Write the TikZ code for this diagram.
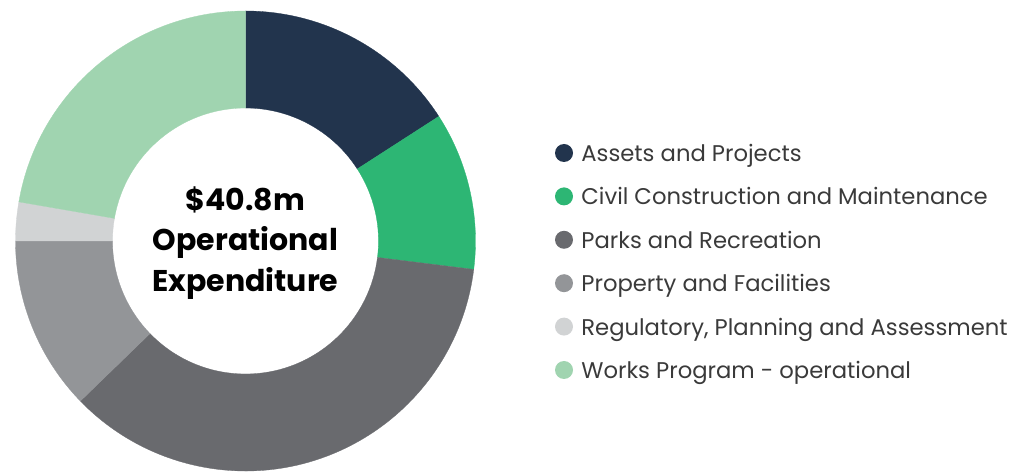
\documentclass[tikz,border=0pt]{standalone}
\usepackage{fontspec}
\setmainfont{Poppins}
\usepackage{tikz}
\usetikzlibrary{
  calc
 , positioning
}
\definecolor{assetsc}{HTML}{22344D}
\definecolor{civilc}{HTML}{2DB674}
\definecolor{parksc}{HTML}{696A6E}
\definecolor{propc}{HTML}{939598}
\definecolor{regc}{HTML}{D1D3D4}
\definecolor{worksc}{HTML}{A0D4B0}
\definecolor{legtext}{HTML}{3A3A3A}

\begin{document}
\begin{tikzpicture}[x=1pt,y=1pt,
    legdot/.style={circle,inner sep=0pt,minimum size=18pt},
    legtxt/.style={anchor=west,inner sep=0pt,text height=17pt,text depth=0pt,
      text=legtext,font=\fontsize{22.7}{26}\selectfont},
    centretxt/.style={align=center,font=\bfseries\fontsize{30}{40.5}\selectfont}]
      \useasboundingbox (0,0) rectangle (1011,471);
      \coordinate (O) at (245.5,230);

      % donut ring
      \def\ro{230}
      \def\ri{133}
      \begin{scope}[shift={(O)}]
        \foreach \a/\b/\c in {90/32.8/assetsc, 32.8/-7.1/civilc,
            -7.1/-135.9/parksc, 224.1/180/propc, 180/170.2/regc, 170.2/90/worksc}{
          \filldraw[fill=\c,draw=\c,line width=0.3pt]
            (\a:\ro) arc[start angle=\a,end angle=\b,radius=\ro]
            -- (\b:\ri) arc[start angle=\b,end angle=\a,radius=\ri] -- cycle;
        }
      \end{scope}

      \node [centretxt] (total) at (245.5,228) {\$40.8m\\Operational\\Expenditure};

      % legend
      \node [legdot,fill=assetsc] (d1) at (564,318) {};
      \node [legdot,fill=civilc,below=25pt of d1] (d2) {};
      \node [legdot,fill=parksc,below=25pt of d2] (d3) {};
      \node [legdot,fill=propc,below=25pt of d3] (d4) {};
      \node [legdot,fill=regc,below=25pt of d4] (d5) {};
      \node [legdot,fill=worksc,below=25pt of d5] (d6) {};

      \node [legtxt,right=8pt of d1] (l1) {Assets and Projects};
      \node [legtxt,right=8pt of d2] (l2) {Civil Construction and Maintenance};
      \node [legtxt,right=8pt of d3] (l3) {Parks and Recreation};
      \node [legtxt,right=8pt of d4] (l4) {Property and Facilities};
      \node [legtxt,right=8pt of d5] (l5) {Regulatory, Planning and Assessment};
      \node [legtxt,right=8pt of d6] (l6) {Works Program - operational};

    \end{tikzpicture}
\end{document}
